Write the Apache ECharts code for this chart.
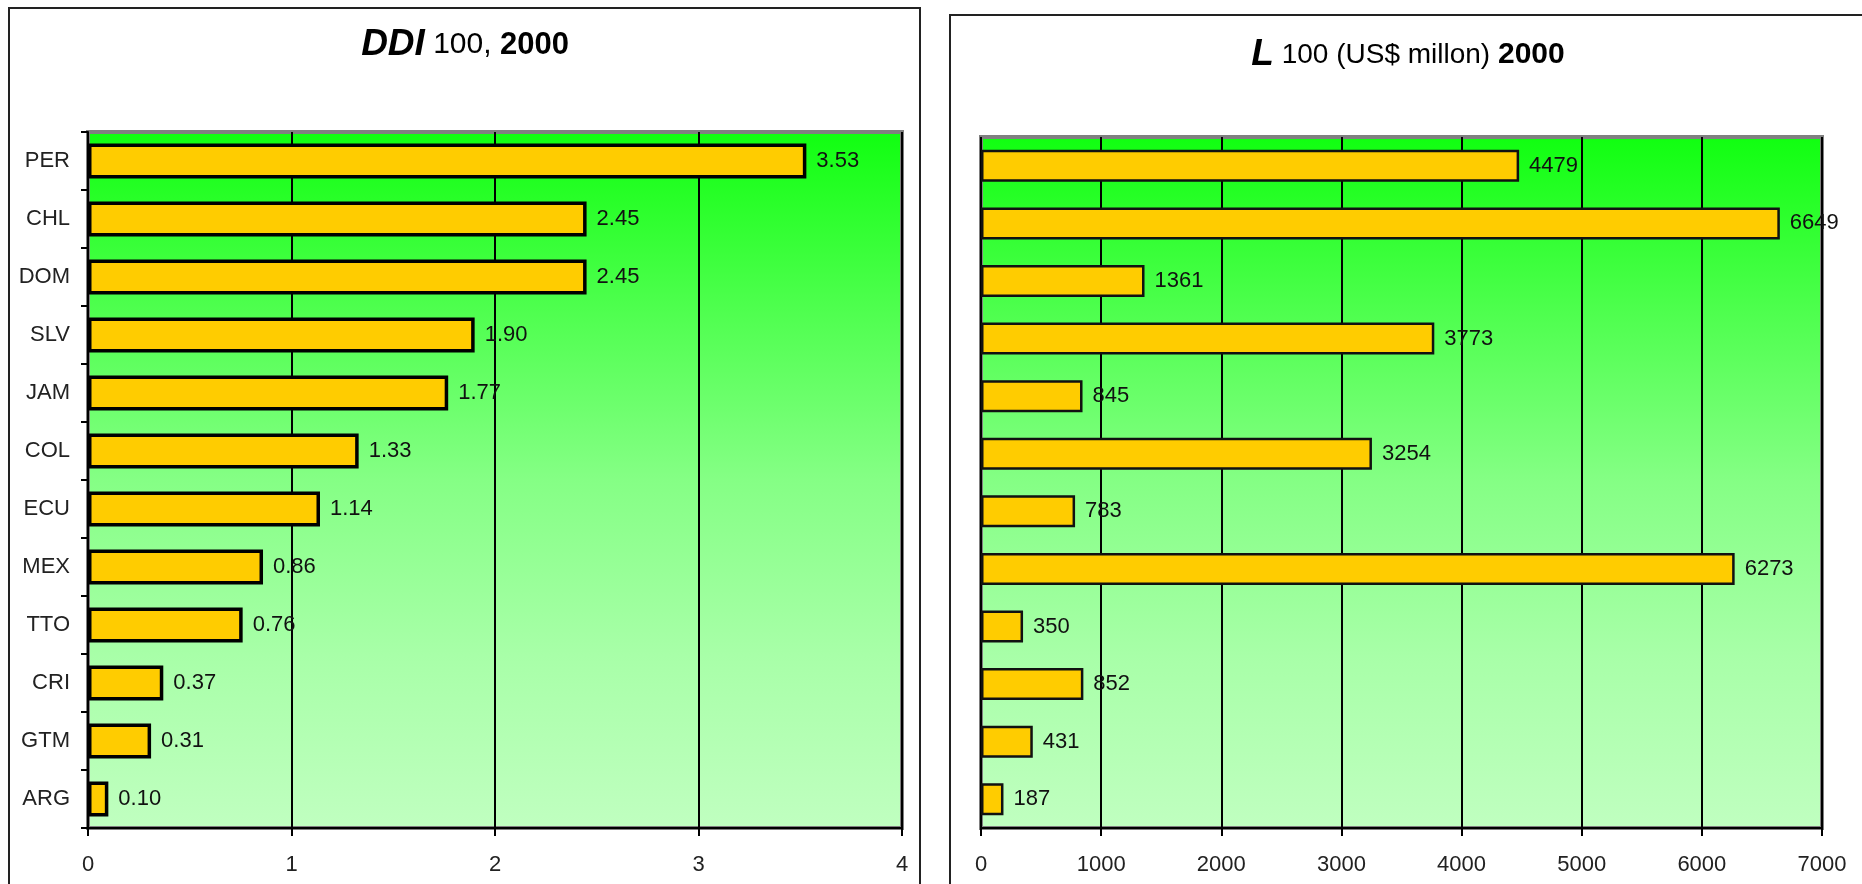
<!DOCTYPE html>
<html>
<head>
<meta charset="utf-8">
<script src="https://cdn.jsdelivr.net/npm/echarts@6/dist/echarts.min.js"></script>
<style>html,body{margin:0;padding:0;background:#fff}#c{width:1862px;height:884px}</style>
</head>
<body>
<div id="c"></div>
<script>
const categories = ['PER','CHL','DOM','SLV','JAM','COL','ECU','MEX','TTO','CRI','GTM','ARG'];
const ddiValues = [3.53, 2.45, 2.45, 1.90, 1.77, 1.33, 1.14, 0.86, 0.76, 0.37, 0.31, 0.10];
const lValues = [4479, 6649, 1361, 3773, 845, 3254, 783, 6273, 350, 852, 431, 187];
const ddiTicks = [0, 1, 2, 3, 4];
const lTicks = [0, 1000, 2000, 3000, 4000, 5000, 6000, 7000];

const FONT = 'Liberation Sans, Arial, sans-serif';
const bg = {
  type: 'linear', x: 0, y: 0, x2: 0, y2: 1,
  colorStops: [
    {offset: 0, color: '#10ff10'},
    {offset: 0.25, color: '#4dff4d'},
    {offset: 0.5, color: '#85ff85'},
    {offset: 0.75, color: '#a8ffa8'},
    {offset: 1, color: '#c0ffc0'}
  ]
};
const chart = echarts.init(document.getElementById('c'), null, {renderer: 'canvas'});
function xAxis(idx, max, interval) {
  return {
    type: 'value', gridIndex: idx, min: 0, max: max, interval: interval,
    axisLine: {show: true, lineStyle: {color: '#000', width: 2}},
    axisTick: {show: true, length: 8, lineStyle: {color: '#000', width: 2}},
    axisLabel: {color: '#222', fontSize: 22, fontFamily: FONT, margin: 26, formatter: v => String(v)},
    splitLine: {show: true, lineStyle: {color: '#000', width: 2}}
  };
}
chart.setOption({
  animation: false,
  backgroundColor: '#fff',
  graphic: [
    {type: 'rect', shape: {x: 9, y: 8, width: 911, height: 900}, style: {fill: 'none', stroke: '#222', lineWidth: 2}, z: 0},
    {type: 'rect', shape: {x: 950, y: 15, width: 950, height: 900}, style: {fill: 'none', stroke: '#222', lineWidth: 2}, z: 0},
    {type: 'text', x: 465, y: 45, style: {
      text: '{a|DDI}{b| 100, }{c|2000}', align: 'center', verticalAlign: 'middle',
      rich: {
        a: {fontSize: 37, fontWeight: 'bold', fontStyle: 'italic', fontFamily: FONT, fill: '#000'},
        b: {fontSize: 30, fontFamily: FONT, fill: '#000'},
        c: {fontSize: 31, fontWeight: 'bold', fontFamily: FONT, fill: '#000'}
      }
    }},
    {type: 'text', x: 1408, y: 55, style: {
      text: '{a|L}{b| 100 (US$ millon) }{c|2000}', align: 'center', verticalAlign: 'middle',
      rich: {
        a: {fontSize: 37, fontWeight: 'bold', fontStyle: 'italic', fontFamily: FONT, fill: '#000'},
        b: {fontSize: 28, fontFamily: FONT, fill: '#000'},
        c: {fontSize: 30, fontWeight: 'bold', fontFamily: FONT, fill: '#000'}
      }
    }}
  ],
  grid: [
    {left: 88, right: 1862 - 902, top: 132, bottom: 884 - 828, show: true, backgroundColor: bg, borderColor: '#808080', borderWidth: 4},
    {left: 981, right: 1862 - 1822, top: 137, bottom: 884 - 828, show: true, backgroundColor: bg, borderColor: '#808080', borderWidth: 4}
  ],
  xAxis: [xAxis(0, ddiTicks[ddiTicks.length - 1], 1), xAxis(1, lTicks[lTicks.length - 1], 1000)],
  yAxis: [
    {type: 'category', gridIndex: 0, data: categories, inverse: true,
     axisLine: {show: true, lineStyle: {color: '#000', width: 2}},
     axisTick: {show: true, length: 7, lineStyle: {color: '#000', width: 2}},
     axisLabel: {color: '#222', fontSize: 22, fontFamily: FONT, margin: 18},
     splitLine: {show: false}},
    {type: 'category', gridIndex: 1, data: categories, inverse: true,
     axisLine: {show: false}, axisTick: {show: false}, axisLabel: {show: false}, splitLine: {show: false}}
  ],
  series: [
    {type: 'bar', xAxisIndex: 0, yAxisIndex: 0, data: ddiValues, barWidth: 35,
     itemStyle: {color: '#ffcc00', borderColor: '#000', borderWidth: 3.5},
     label: {show: true, position: 'right', distance: 10, color: '#111', fontSize: 22, fontFamily: FONT,
             formatter: p => p.value.toFixed(2)}},
    {type: 'bar', xAxisIndex: 1, yAxisIndex: 1, data: lValues, barWidth: 32,
     itemStyle: {color: '#ffcc00', borderColor: '#111', borderWidth: 2.5},
     label: {show: true, position: 'right', distance: 10, color: '#111', fontSize: 22, fontFamily: FONT}}
  ]
});
</script>
</body>
</html>
